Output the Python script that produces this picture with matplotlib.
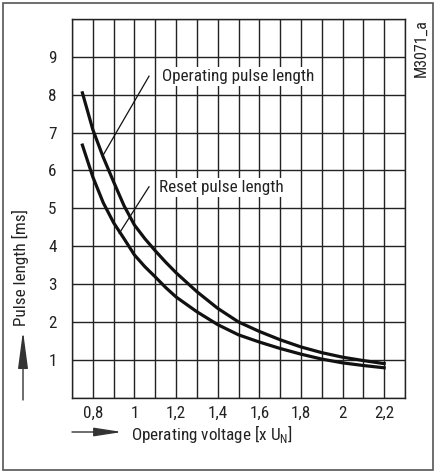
import matplotlib
matplotlib.use("Agg")
import matplotlib.pyplot as plt
from matplotlib import font_manager as fm
from matplotlib.patches import FancyArrowPatch, Rectangle

# -----------------------------
# Data
# -----------------------------

voltage = [0.75, 0.8, 0.85, 0.9, 0.95, 1.0, 1.05, 1.1, 1.15, 1.2, 1.3, 1.4, 1.5, 1.6, 1.7, 1.8, 1.9, 2.0, 2.1, 2.2]
operating_pulse = [8.05, 7.08, 6.35, 5.7, 5.07, 4.56, 4.2, 3.88, 3.58, 3.3, 2.8, 2.36, 2.0, 1.75, 1.53, 1.34, 1.19, 1.07, 0.98, 0.9]
reset_pulse = [6.67, 5.83, 5.15, 4.62, 4.2, 3.77, 3.46, 3.19, 2.91, 2.66, 2.27, 1.93, 1.66, 1.47, 1.30, 1.15, 1.02, 0.92, 0.85, 0.79]

x_ticks = [0.8, 1.0, 1.2, 1.4, 1.6, 1.8, 2.0, 2.2]
x_tick_labels = ["0,8", "1", "1,2", "1,4", "1,6", "1,8", "2", "2,2"]
y_ticks = [1, 2, 3, 4, 5, 6, 7, 8, 9]

# -----------------------------
# Fonts: prefer a narrow sans
# -----------------------------

names = {f.name for f in fm.fontManager.ttflist}
stretch = "normal"
if "Liberation Sans Narrow" in names:
    family = "Liberation Sans Narrow"
elif "Roboto Condensed" in names:
    family = "Roboto Condensed"
elif any(f.name == "DejaVu Sans" and "Condensed" in f.fname for f in fm.fontManager.ttflist):
    family = "DejaVu Sans"
    stretch = "condensed"
else:
    family = "Liberation Sans"

plt.rcParams["font.family"] = [family, "DejaVu Sans"]
plt.rcParams["font.stretch"] = stretch
plt.rcParams["mathtext.fontset"] = "custom"
plt.rcParams["mathtext.rm"] = f"{family}:stretch={stretch}"

W, H = 436, 473
FS = 12.3
GRID = "#222222"
INK = "#222222"


def fx(px):
    return px / W


def fy(py):
    return 1 - py / H


fig = plt.figure(figsize=(W / 100, H / 100), dpi=100)

# outer frame
fig.patches.append(Rectangle((fx(3), fy(470)), fx(430), 467 / H, transform=fig.transFigure,
                             fill=False, edgecolor="#555555", linewidth=1.2))

ax = fig.add_axes([fx(72), fy(397.7), fx(333), 378.7 / H])
ax.set_xlim(0.7, 2.3)
ax.set_ylim(0, 10)

# grid
for i in range(17):
    ax.axvline(0.7 + i * 0.1, color=GRID, linewidth=1.0, zorder=1)
for j in range(11):
    ax.axhline(j, color=GRID, linewidth=1.0, zorder=1)
for s in ax.spines.values():
    s.set_color(GRID)
    s.set_linewidth(1.0)

ax.set_xticks(x_ticks)
ax.set_xticklabels(x_tick_labels)
ax.set_yticks(y_ticks)
ax.tick_params(length=0, labelsize=FS, colors=INK)
ax.tick_params(axis="x", pad=6)
ax.tick_params(axis="y", pad=11)

# curves
ax.plot(voltage, operating_pulse, color="#111111", linewidth=2.3, zorder=3,
        solid_joinstyle="round")
ax.plot(voltage, reset_pulse, color="#111111", linewidth=2.3, zorder=3,
        solid_joinstyle="round")

# leader lines and labels
ax.plot([0.849, 1.070], [6.40, 8.49], color="#111111", linewidth=0.9, zorder=3)
ax.plot([0.927, 1.070], [4.34, 5.57], color="#111111", linewidth=0.9, zorder=3)
box = dict(facecolor="white", edgecolor="none", pad=1.5)
ax.text(1.132, 8.49, "Operating pulse length", fontsize=FS, va="center", ha="left",
        color=INK, bbox=box, zorder=4)
ax.text(1.118, 5.54, "Reset pulse length", fontsize=FS, va="center", ha="left",
        color=INK, bbox=box, zorder=4)

# axis titles with arrows
fig.text(fx(20), fy(268), "Pulse length [ms]", rotation=90, ha="center", va="center",
         fontsize=FS, color=INK)
fig.text(fx(131), fy(434), r"Operating voltage [x U$_\mathrm{N}$]", ha="left", va="center",
         fontsize=FS, color=INK)
fig.add_artist(FancyArrowPatch((fx(23), fy(400)), (fx(23), fy(331)), transform=fig.transFigure,
                               arrowstyle="-|>,head_length=2.1,head_width=0.28", mutation_scale=11,
                               color="#333333", linewidth=1.0, shrinkA=0, shrinkB=0))
fig.add_artist(FancyArrowPatch((fx(72), fy(432)), (fx(122), fy(432)), transform=fig.transFigure,
                               arrowstyle="-|>,head_length=1.55,head_width=0.24", mutation_scale=11,
                               color="#333333", linewidth=1.0, shrinkA=0, shrinkB=0))

fig.text(fx(421), fy(48), "M3071_a", rotation=90, ha="center", va="center",
         fontsize=FS - 0.8, color=INK)

fig.savefig("out.png", dpi=100)
